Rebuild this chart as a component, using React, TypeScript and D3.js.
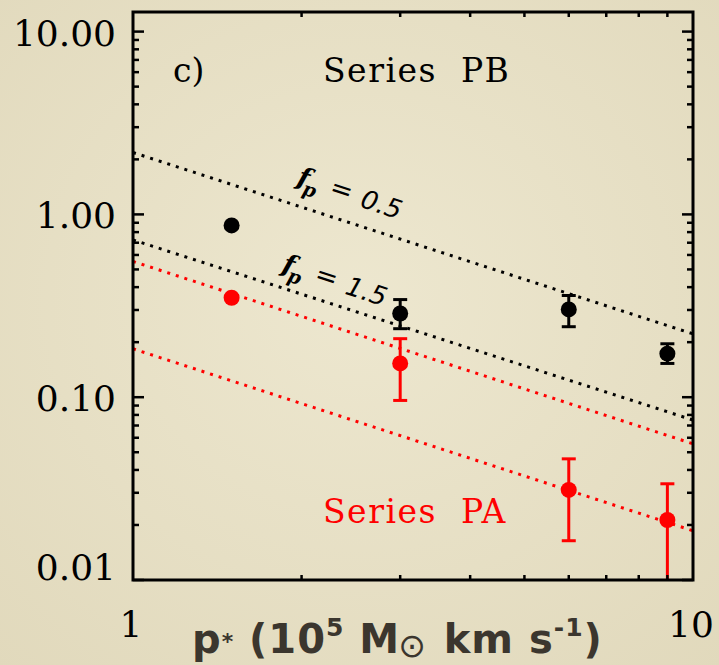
import React from "react";
import * as d3 from "d3";

// Observed samples: momentum p* (1e5 Msun km/s) vs. value, with error bars
const pbX = [1.5, 3.0, 6.0, 9.0];
const pbY = [0.87, 0.287, 0.302, 0.173];
const pbLo = [0.87, 0.237, 0.243, 0.153];
const pbHi = [0.87, 0.342, 0.36, 0.196];

const paX = [1.5, 3.0, 6.0, 9.0];
const paY = [0.35, 0.153, 0.0311, 0.0213];
const paLo = [0.35, 0.096, 0.0164, 0.005];
const paHi = [0.35, 0.209, 0.046, 0.0336];

// Model lines, sampled at the ends of the x range
const modelX = [1, 10];
const fp05 = [2.18, 0.222];
const fp15 = [0.725, 0.075];
const paUpper = [0.553, 0.0556];
const paLower = [0.184, 0.0186];

const yTickVals = [10, 1, 0.1, 0.01];
const yTickLabels = ["10.00", "1.00", "0.10", "0.01"];
const xTickVals = [1, 10];
const xTickLabels = ["1", "10"];

const W = 719;
const H = 665;
const L = 133;
const R = 693;
const T = 12;
const B = 580;

export default function App() {
  const x = d3.scaleLog().domain([1, 10]).range([L, R]);
  const y = d3.scaleLog().domain([0.01, 12.8]).range([B, T]);

  const line = d3
    .line<[number, number]>()
    .x((d) => x(d[0]))
    .y((d) => y(d[1]));

  const models = [
    { v: fp05, c: "#000" },
    { v: fp15, c: "#000" },
    { v: paUpper, c: "#ff0000" },
    { v: paLower, c: "#ff0000" },
  ];

  // minor ticks
  const xMinor: number[] = [];
  for (let i = 2; i <= 9; i++) xMinor.push(i);
  const yMinor: number[] = [];
  for (const dec of [0.01, 0.1, 1, 10]) {
    for (let i = 2; i <= 9; i++) {
      const v = dec * i;
      if (v < 12.8) yMinor.push(v);
    }
  }

  const serif = "'DejaVu Serif', 'Liberation Serif', serif";
  const sans = "'DejaVu Sans', sans-serif";
  const angle = (Math.atan2(y(fp05[1]) - y(fp05[0]), x(10) - x(1)) * 180) / Math.PI;

  const series = [
    { xs: pbX, ys: pbY, lo: pbLo, hi: pbHi, c: "#000" },
    { xs: paX, ys: paY, lo: paLo, hi: paHi, c: "#ff0000" },
  ];

  // rotated "f_p = value" label laid along a model line
  const fpLabel = (tx: number, ty: number, val: string) => (
    <g transform={`translate(${tx},${ty}) rotate(${angle})`} fill="#000">
      <text x={0} y={0} fontFamily={serif} fontWeight="bold" fontStyle="italic" fontSize={26}>f</text>
      <text x={8} y={8} fontFamily={serif} fontWeight="bold" fontStyle="italic" fontSize={19}>p</text>
      <text x={34} y={0} fontFamily={sans} fontSize={27}>=</text>
      <text x={67} y={2} fontFamily={sans} fontStyle="italic" fontSize={26}>{val}</text>
    </g>
  );

  return (
    <svg
      width={W}
      height={H}
      style={{ position: "absolute", left: 0, top: 0 }}
      xmlns="http://www.w3.org/2000/svg"
    >
      <defs>
        <radialGradient id="bg" cx="50%" cy="45%" r="75%">
          <stop offset="0%" stopColor="#ede7cf" />
          <stop offset="100%" stopColor="#e1d9bc" />
        </radialGradient>
        <clipPath id="plot">
          <rect x={L} y={T} width={R - L} height={B - T} />
        </clipPath>
      </defs>
      <rect x={0} y={0} width={W} height={H} fill="url(#bg)" />

      {/* model lines */}
      <g clipPath="url(#plot)">
        {models.map((m, i) => (
          <path
            key={i}
            d={line(modelX.map((xv, j) => [xv, m.v[j]]) as [number, number][]) || ""}
            fill="none"
            stroke={m.c}
            strokeWidth={3}
            strokeDasharray="3 6"
          />
        ))}
      </g>

      {/* data with error bars */}
      <g clipPath="url(#plot)">
        {series.map((s, si) =>
          s.xs.map((xv, i) => {
            const cx = x(xv);
            const hasErr = s.hi[i] !== s.lo[i];
            return (
              <g key={`${si}-${i}`}>
                {hasErr && (
                  <>
                    <line x1={cx} x2={cx} y1={y(s.lo[i])} y2={y(s.hi[i])} stroke={s.c} strokeWidth={3} />
                    <line x1={cx - 7} x2={cx + 7} y1={y(s.hi[i])} y2={y(s.hi[i])} stroke={s.c} strokeWidth={3} />
                    <line x1={cx - 7} x2={cx + 7} y1={y(s.lo[i])} y2={y(s.lo[i])} stroke={s.c} strokeWidth={3} />
                  </>
                )}
                <circle cx={cx} cy={y(s.ys[i])} r={8} fill={s.c} />
              </g>
            );
          })
        )}
      </g>

      {/* ticks */}
      <g stroke="#000" strokeWidth={2.5}>
        {xMinor.map((v) => (
          <g key={`xm${v}`}>
            <line x1={x(v)} x2={x(v)} y1={B} y2={B - 5} />
            <line x1={x(v)} x2={x(v)} y1={T} y2={T + 5} />
          </g>
        ))}
        {yMinor.map((v) => (
          <g key={`ym${v}`}>
            <line x1={L} x2={L + 6} y1={y(v)} y2={y(v)} />
            <line x1={R} x2={R - 6} y1={y(v)} y2={y(v)} />
          </g>
        ))}
        {yTickVals.map((v) => (
          <g key={`yM${v}`}>
            <line x1={L} x2={L + 11} y1={y(v)} y2={y(v)} />
            <line x1={R} x2={R - 11} y1={y(v)} y2={y(v)} />
          </g>
        ))}
      </g>

      {/* frame */}
      <rect x={L} y={T} width={R - L} height={B - T} fill="none" stroke="#000" strokeWidth={3} />

      {/* y tick labels */}
      <g fontFamily={serif} fontSize={36} fill="#000" textAnchor="end">
        {yTickVals.map((v, i) => (
          <text key={v} x={L - 17} y={y(v) + (v === 0.01 ? 0 : 14)}>
            {yTickLabels[i]}
          </text>
        ))}
      </g>

      {/* x tick labels */}
      <g fontFamily={serif} fontSize={36} fill="#000" textAnchor="middle">
        {xTickVals.map((v, i) => (
          <text key={v} x={x(v) - 2} y={637}>
            {xTickLabels[i]}
          </text>
        ))}
      </g>

      {/* annotations */}
      <text x={173} y={82} fontFamily={serif} fontSize={33} fill="#000">
        c)
      </text>
      <text x={323} y={82} fontFamily={serif} fontSize={33} letterSpacing={1.5} fill="#000" xmlSpace="preserve">
        Series  PB
      </text>
      <text x={323} y={523} fontFamily={serif} fontSize={33} letterSpacing={1.5} fill="#ff0000" xmlSpace="preserve">
        Series  PA
      </text>

      {fpLabel(296, 184, "0.5")}
      {fpLabel(281, 271, "1.5")}

      {/* x axis title */}
      <text
        x={192}
        y={653}
        fontFamily={sans}
        fontWeight="bold"
        fontSize={40}
        fill="#3b362e"
        letterSpacing={1}
        xmlSpace="preserve"
      >
        <tspan>p</tspan>
        <tspan fontSize={22} dy={-4}>*</tspan>
        <tspan dy={4}>{" (10"}</tspan>
        <tspan fontSize={25} dy={-17}>5</tspan>
        <tspan dy={17}>{" M"}</tspan>
        <tspan fontSize={33} fontWeight="normal" dx={-2} dy={4}>⊙</tspan>
        <tspan dx={2} dy={-4}>{" km s"}</tspan>
        <tspan fontSize={25} dy={-17}>-1</tspan>
        <tspan dy={17}>)</tspan>
      </text>
    </svg>
  );
}
